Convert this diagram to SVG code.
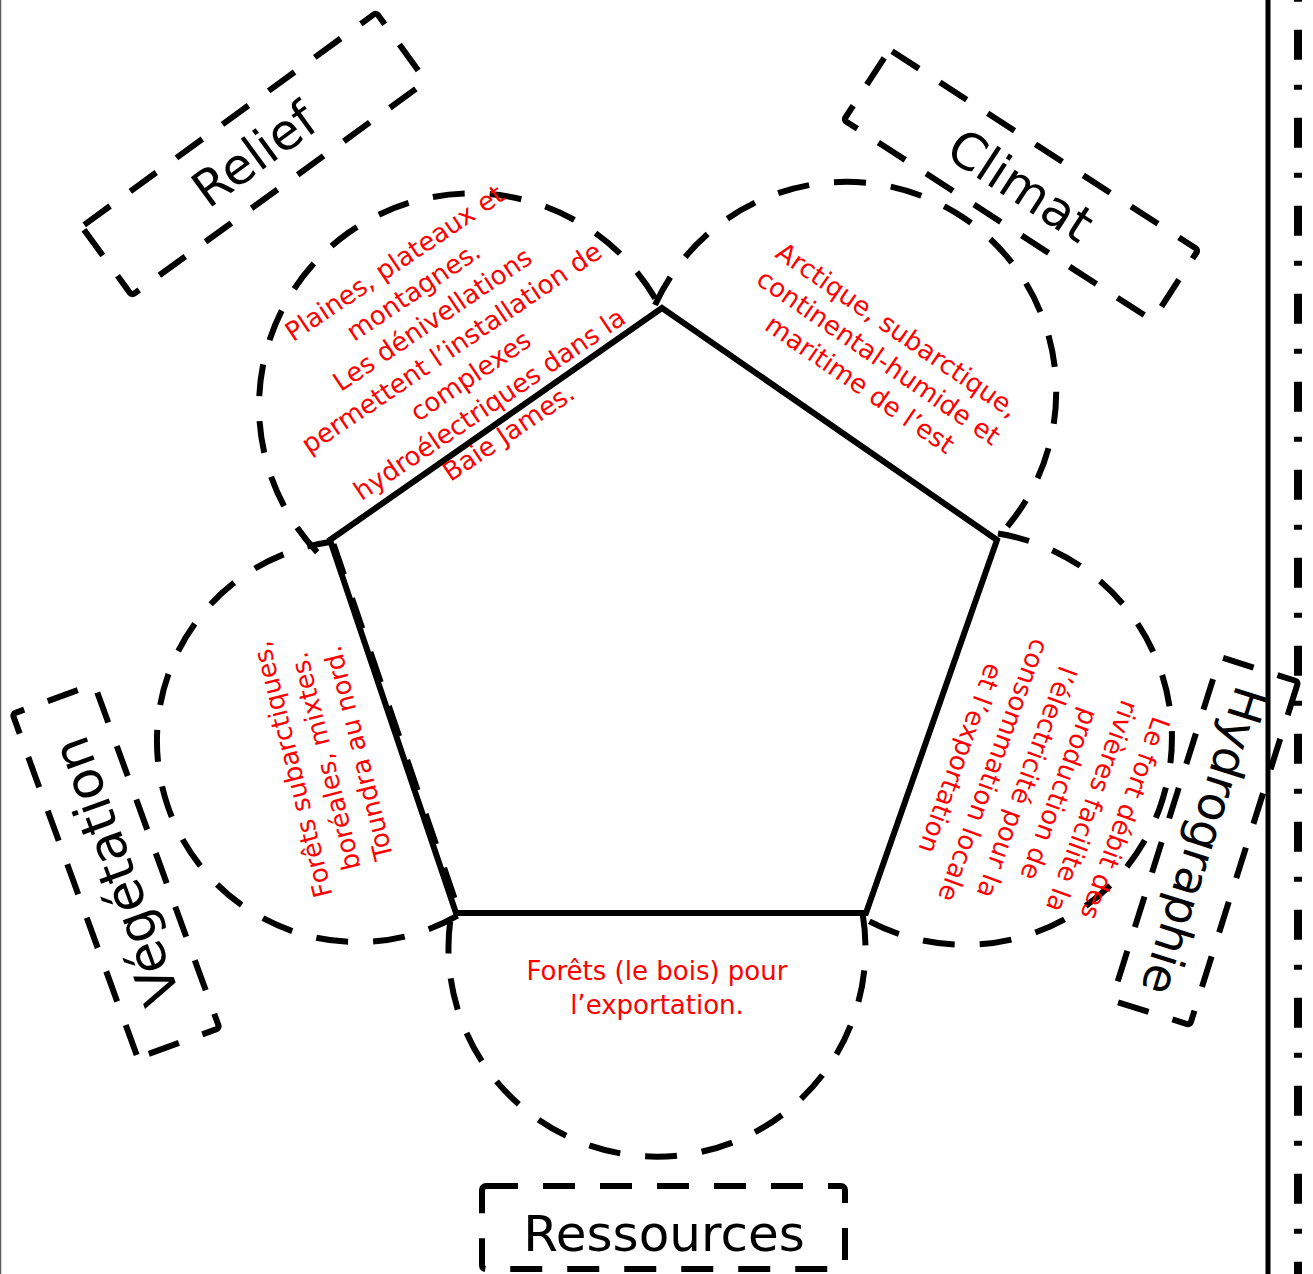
<svg xmlns="http://www.w3.org/2000/svg" width="1313" height="1274" viewBox="0 0 1313 1274">
<style>
.arc{fill:none;stroke:#000;stroke-width:6;stroke-dasharray:32 25}
.box{fill:none;stroke:#000;stroke-width:6;stroke-dasharray:32 25}
.lbl{font-family:"DejaVu Sans",sans-serif;font-size:50px;fill:#000;text-anchor:middle}
.red{font-family:"DejaVu Sans",sans-serif;font-size:26px;fill:#ff0000;text-anchor:middle}
</style>
<rect x="0" y="0" width="1313" height="1274" fill="#fff"/>
<g id="frame">
<line x1="0.5" y1="0" x2="0.5" y2="1274" stroke="#5a5a5a" stroke-width="1.5"/>
<line x1="1268" y1="0" x2="1268" y2="1274" stroke="#000" stroke-width="5"/>
<line x1="1298" y1="0" x2="1298" y2="1274" stroke="#000" stroke-width="8" stroke-dasharray="30 25 5 28" stroke-dashoffset="58.3"/>
</g>
<g id="connectors">
<polygon id="pentagon" points="662,308 997,540 866,913 456,913 330,540" fill="none" stroke="#000" stroke-width="6" stroke-linejoin="miter"/>
<line x1="334" y1="544" x2="459" y2="910" stroke="#000" stroke-width="5" stroke-dasharray="32 25"/>
</g>
<g id="relief">
<path class="arc" d="M 317.2 552.2 A 212.7 212.7 0 1 1 660.8 308.6"/>
<g transform="translate(452,348.5) rotate(-34)">
<text class="red"><tspan x="0" y="-94">Plaines, plateaux et</tspan><tspan x="0" y="-60">montagnes.</tspan><tspan x="0" y="-26">Les dénivellations</tspan><tspan x="0" y="8">permettent l’installation de</tspan><tspan x="0" y="42">complexes</tspan><tspan x="0" y="76">hydroélectriques dans la</tspan><tspan x="0" y="110">Baie James.</tspan></text>
</g>
<g transform="translate(254,154) rotate(-36)">
<rect class="box" x="-182" y="-42.5" width="364" height="85" rx="3"/>
<text class="lbl" x="0" y="18">Relief</text>
</g>
</g>
<g id="climat">
<path class="arc" d="M 655 305 A 210 210 0 1 1 996 539"/>
<g transform="translate(878,358) rotate(34.5)">
<text class="red"><tspan x="0" y="-25">Arctique, subarctique,</tspan><tspan x="0" y="8">continental-humide et</tspan><tspan x="0" y="41">maritime de l’est</tspan></text>
</g>
<g transform="translate(1021,185) rotate(33)">
<rect class="box" x="-184" y="-42" width="368" height="84" rx="3"/>
<text class="lbl" x="0" y="18">Climat</text>
</g>
</g>
<g id="hydrographie">
<path class="arc" d="M 998 533.5 A 207 207 0 1 1 863 918"/>
<g transform="translate(1042,788) rotate(110)">
<text class="red"><tspan x="0" y="-79.5">Le fort débit des</tspan><tspan x="0" y="-44.5">rivières facilite la</tspan><tspan x="0" y="-9.5">production de</tspan><tspan x="0" y="25.5">l’électricité pour la</tspan><tspan x="0" y="60.5">consommation locale</tspan><tspan x="0" y="95.5">et l’exportation</tspan></text>
</g>
<g transform="translate(1205,841) rotate(107.5)">
<rect class="box" x="-180" y="-41" width="360" height="82" rx="3"/>
<text class="lbl" x="0" y="17" style="font-size:47px">Hydrographie</text>
</g>
</g>
<g id="ressources">
<path class="arc" d="M 862.6 913.6 A 208.5 208.5 0 1 1 451.6 912.2"/>
<text class="red"><tspan x="657" y="980">Forêts (le bois) pour</tspan><tspan x="657" y="1014">l’exportation.</tspan></text>
<rect class="box" x="482" y="1186" width="363" height="83" rx="4"/>
<text class="lbl" x="664" y="1251">Ressources</text>
</g>
<g id="vegetation">
<path class="arc" d="M 457.5 915.7 A 201 201 0 1 1 330.3 542"/>
<g transform="translate(326,761) rotate(-104)">
<text class="red"><tspan x="0" y="-26">Forêts subarctiques,</tspan><tspan x="0" y="8">boréales, mixtes.</tspan><tspan x="0" y="42">Toundra au nord.</tspan></text>
</g>
<g transform="translate(116,871) rotate(-110)">
<rect class="box" x="-183" y="-43.5" width="366" height="87" rx="3"/>
<text class="lbl" x="0" y="18" style="font-size:52px">Végétation</text>
</g>
</g>
</svg>
